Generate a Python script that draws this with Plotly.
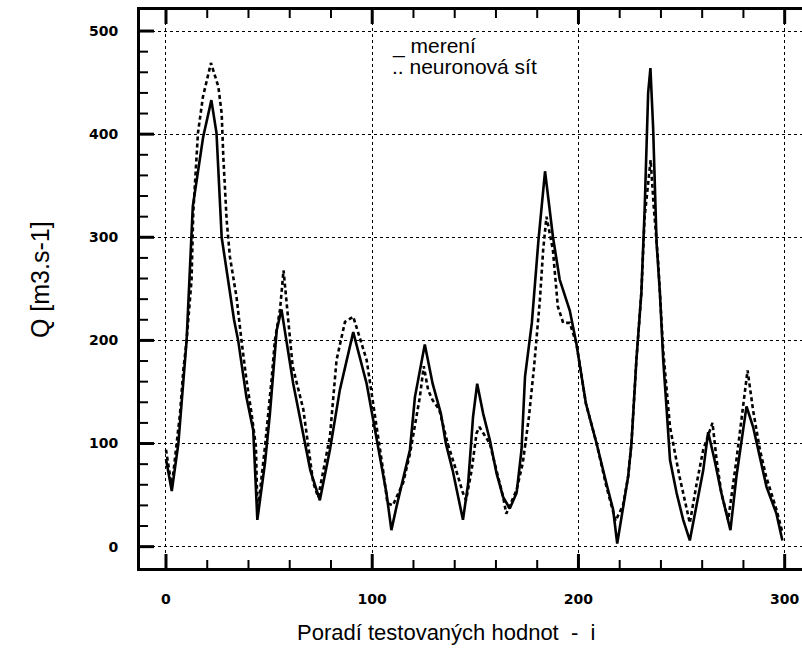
import plotly.graph_objects as go

# measured discharge (solid) - sample index i and Q [m3/s]
measured_i = [0, 2.8, 6, 10, 13, 15, 18, 22, 24.5, 27, 30, 33, 35, 39, 42.3, 43, 44.3, 48, 50.4, 53.7, 56,
              61.7, 66.6, 70, 74.6, 79.5, 84.3, 90.8, 97.3, 102, 106.9, 109.3, 111.8, 118.3, 120.7, 125.5,
              129.3, 133.3, 135.7, 139, 141.7, 144, 146.5, 148.9, 150.9, 153.8, 157.1, 160.3, 163.5, 166.7,
              170, 172.4, 174.1, 177.4, 180.6, 183.8, 187.6, 190.9, 195.8, 199, 203.6, 208.8, 213.6, 216.8,
              218.8, 221.6, 224.1, 225.7, 228.1, 230.5, 232.1, 233.8, 234.9, 236.2, 237.9, 239.5, 241.1,
              242.8, 244.4, 247.6, 250.8, 254, 257.3, 260.5, 262.9, 266, 269.3, 273.7, 276.6, 279, 281.5,
              284.7, 287.1, 291.2, 296, 298.9]
measured_q = [85, 54, 100, 200, 330, 356, 397, 433, 401, 300, 259, 220, 200, 145, 113, 81, 26, 81, 129, 210, 230,
              158, 107, 74, 45, 94, 152, 208, 158, 107, 52, 16, 39, 94, 145, 196,
              158, 129, 100, 74, 48, 26, 61, 126, 158, 129, 103, 71, 48, 37,
              52, 94, 165, 217, 297, 364, 301, 259, 229, 197, 139, 100, 61, 36,
              3, 36, 68, 100, 181, 246, 327, 440, 464, 407, 294, 246, 181,
              132, 84, 52, 26, 6, 42, 74, 111, 84, 52, 16, 68, 100, 136,
              116, 94, 58, 32, 6]

# neural network output (dashed)
ann_i = [0, 2.8, 6.8, 8.4, 10, 12.4, 13.2, 15.5, 17.9, 21.8, 25.4, 27, 27.8, 28.6, 29.4, 31, 34.2, 36.6, 39,
         41.5, 43.6, 44.4, 48, 51.2, 52.8, 55.3, 57, 61.4, 66.6, 71.4, 73.8, 79.5, 82.7, 86.8, 90.8, 97.3,
         102, 105, 107.4, 110, 115, 118.3, 123.1, 125, 127.1, 129.3, 132.5, 136.6, 140.7, 144, 145.5, 148.2,
         150.6, 152, 157, 160.3, 163.5, 165, 170, 173, 176, 178.5, 181.3, 182.9, 184.5, 187.6, 190, 192.6,
         195.8, 199, 203.6, 208.8, 213.6, 218, 221.6, 224.1, 225.7, 228.1, 230.5, 232.1, 235, 236.5, 238.6,
         241.1, 244.4, 249, 252, 254, 257.3, 260.5, 265, 267, 269.3, 272.6, 276.6, 279.9, 282, 284.7, 288,
         291, 296, 299]
ann_q = [94, 58, 129, 171, 200, 259, 323, 401, 436, 469, 446, 420, 378, 346, 317, 281, 242, 200, 162,
         129, 97, 32, 97, 162, 200, 230, 268, 175, 133, 62, 48, 107, 181, 218, 223, 181,
         120, 78, 42, 40, 62, 90, 145, 175, 152, 142, 133, 100, 74, 52, 45, 74,
         110, 116, 100, 74, 48, 32, 55, 81, 126, 175, 239, 288, 320, 288, 233, 217,
         217, 197, 139, 100, 58, 25, 40, 68, 100, 181, 246, 320, 375, 330, 278,
         190, 116, 68, 42, 23, 61, 94, 120, 84, 52, 26, 84, 139, 171, 132, 94,
         68, 36, 13]

x_major = [0, 100, 200, 300]
y_major = [0, 100, 200, 300, 400, 500]
x_minor = [20, 40, 60, 80, 120, 140, 160, 180, 220, 240, 260, 280]
y_minor = [20, 40, 60, 80, 120, 140, 160, 180, 220, 240, 260, 280, 320, 340, 360, 380, 420, 440, 460, 480]

W, H = 802, 648
ML, MR, MT, MB = 140, 0, 10, 80
PW, PH = W - ML - MR, H - MT - MB

fig = go.Figure()
fig.add_trace(go.Scatter(x=measured_i, y=measured_q, mode="lines",
                         line=dict(color="black", width=2.6), showlegend=False))
fig.add_trace(go.Scatter(x=ann_i, y=ann_q, mode="lines",
                         line=dict(color="black", width=2.6, dash="4px,3px"), showlegend=False))

tickfont = dict(family="DejaVu Sans", size=14, weight="bold", color="black")
common = dict(tickmode="array", showline=True, linewidth=3, linecolor="black", ticks="",
              showgrid=True, gridcolor="black", gridwidth=1, griddash="dot",
              zeroline=False, ticklabelstandoff=16, tickfont=tickfont)
fig.update_layout(
    width=W, height=H,
    margin=dict(l=ML, r=MR, t=MT, b=MB),
    paper_bgcolor="white", plot_bgcolor="white",
    font=dict(family="Liberation Sans", color="black"),
    xaxis=dict(range=[-12.6, 308.4], tickvals=x_major, ticktext=[str(v) for v in x_major],
               mirror=True, **common),
    yaxis=dict(range=[-20.7, 520.4], tickvals=y_major, ticktext=[str(v) for v in y_major],
               mirror=False, **common),
)

TICK_COLOR = "black"

def xtick(v, length, width):
    for y0, y1 in [(0, length / PH), (1, 1 - length / PH)]:
        fig.add_shape(type="line", xref="x", yref="paper", x0=v, x1=v, y0=y0, y1=y1,
                      layer="above", line=dict(color=TICK_COLOR, width=width))

def ytick(v, length, width):
    fig.add_shape(type="line", xref="paper", yref="y", x0=0, x1=length / PW, y0=v, y1=v,
                  layer="above", line=dict(color=TICK_COLOR, width=width))

for v in x_major:
    xtick(v, 14, 3)
for v in x_minor:
    xtick(v, 8, 2)
for v in y_major:
    ytick(v, 14, 3)
for v in y_minor:
    ytick(v, 8, 2)

fig.add_annotation(text="Q [m3.s-1]", xref="paper", yref="paper", x=-0.151, y=0.516,
                   xanchor="center", yanchor="middle", textangle=-90, showarrow=False,
                   font=dict(family="Liberation Sans Narrow, Liberation Sans", size=25, color="black"))
fig.add_annotation(text="Poradí testovaných hodnot  -  i", xref="paper", yref="paper", x=0.462, y=-0.1147,
                   xanchor="center", yanchor="middle",
                   showarrow=False, font=dict(family="Liberation Sans", size=22, color="black"))
fig.add_annotation(text="_ merení", xref="paper", yref="paper", x=0.3776, y=0.9355,
                   xanchor="left", yanchor="middle",
                   showarrow=False, font=dict(family="Liberation Sans", size=21, color="black"))
fig.add_annotation(text=".. neuronová sít", xref="paper", yref="paper", x=0.3776, y=0.898,
                   xanchor="left", yanchor="middle",
                   showarrow=False, font=dict(family="Liberation Sans", size=21, color="black"))

fig.write_html("out.html")
